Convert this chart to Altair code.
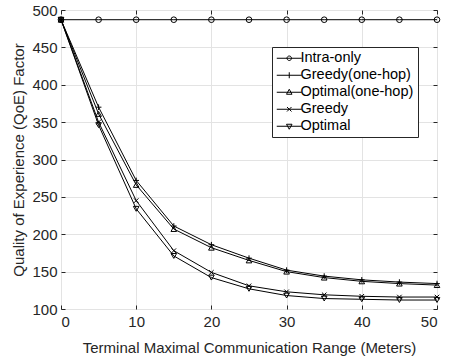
import altair as alt
import pandas as pd

# ---- data ----
ranges = [0, 5, 10, 15, 20, 25, 30, 35, 40, 45, 50]
intra_only = [487, 487, 487, 487, 487, 487, 487, 487, 487, 487, 487]
greedy_one_hop = [487, 370, 272, 211, 186, 168, 152, 144, 139, 136, 134]
optimal_one_hop = [487, 361, 266, 207, 182, 165, 150, 142, 137, 134, 132]
greedy = [487, 350, 245, 178, 149, 131, 123, 119, 117, 116, 116]
optimal = [487, 346, 234, 171, 142, 127, 118, 114, 113, 112, 112]
series_names = ["Intra-only", "Greedy(one-hop)", "Optimal(one-hop)", "Greedy", "Optimal"]
x_ticks = [0, 10, 20, 30, 40, 50]
y_ticks = [100, 150, 200, 250, 300, 350, 400, 450, 500]

rows = []
for name, vals in zip(series_names, [intra_only, greedy_one_hop, optimal_one_hop, greedy, optimal]):
    for r, v in zip(ranges, vals):
        rows.append({"range": r, "qoe": v, "series": name})
df = pd.DataFrame(rows)

FONT = "Liberation Sans"
TXT = "#262626"
GRID = "#e3e3e3"
W, H = 376, 299

x_scale = alt.Scale(domain=[0, 50], nice=False)
y_scale = alt.Scale(domain=[100, 500], nice=False, zero=False)

x_main = alt.X(
    "range:Q", scale=x_scale,
    axis=alt.Axis(
        values=x_ticks, title="Terminal Maximal Communication Range (Meters)",
        grid=True, gridColor=GRID, domain=False, ticks=False,
        labelFont=FONT, labelFontSize=15, labelColor=TXT, labelPadding=5,
        titleFont=FONT, titleFontSize=15, titleFontWeight="normal", titleColor=TXT,
        titlePadding=11,
    ),
)
y_main = alt.Y(
    "qoe:Q", scale=y_scale,
    axis=alt.Axis(
        values=y_ticks, title="Quality of Experience (QoE) Factor",
        grid=True, gridColor=GRID, domain=False, ticks=False,
        labelFont=FONT, labelFontSize=15, labelColor=TXT, labelPadding=4,
        titleFont=FONT, titleFontSize=15, titleFontWeight="normal", titleColor=TXT,
        titlePadding=5,
    ),
)


def tick_axis(values, orient, offset):
    return alt.Axis(
        values=values, orient=orient, offset=offset, title=None,
        labels=False, grid=False, domain=False, ticks=True,
        tickSize=4, tickColor=TXT, tickWidth=1,
    )


# inward tick marks on all four sides of the box (MATLAB style)
x_in_bottom = alt.X("range:Q", scale=x_scale, axis=tick_axis(x_ticks, "top", -H))
x_in_top = alt.X("range:Q", scale=x_scale, axis=tick_axis(x_ticks, "bottom", -H))
y_in_left = alt.Y("qoe:Q", scale=y_scale, axis=tick_axis(y_ticks, "right", -W))
y_in_right = alt.Y("qoe:Q", scale=y_scale, axis=tick_axis(y_ticks, "left", -W))

marker_shapes = [
    "circle",
    "M-1,0L1,0M0,-1L0,1",
    "triangle-up",
    "M-0.8,-0.8L0.8,0.8M-0.8,0.8L0.8,-0.8",
    "triangle-down",
]
legend_shapes = [
    "M-2.5,0L2.5,0M0.45,0A0.45,0.45,0,1,1,-0.45,0A0.45,0.45,0,1,1,0.45,0",
    "M-2.5,0L2.5,0M0,-0.6L0,0.6",
    "M-2.5,0L2.5,0M0,-0.6L0.55,0.4L-0.55,0.4Z",
    "M-2.5,0L2.5,0M-0.45,-0.45L0.45,0.45M-0.45,0.45L0.45,-0.45",
    "M-2.5,0L2.5,0M0,0.6L0.55,-0.4L-0.55,-0.4Z",
]

lines = alt.Chart(df).mark_line(color="black", strokeWidth=1).encode(
    x=x_main, y=y_main, detail="series:N"
)
points = alt.Chart(df).mark_point(filled=False, color="black", size=32, strokeWidth=1, opacity=1).encode(
    x=x_in_bottom, y=y_in_left,
    shape=alt.Shape("series:N", scale=alt.Scale(domain=series_names, range=marker_shapes), legend=None),
)
legend_layer = alt.Chart(df).transform_filter("false").mark_point(
    filled=False, color="black", strokeWidth=1, opacity=1
).encode(
    x=x_in_top, y=y_in_right,
    shape=alt.Shape(
        "series:N",
        scale=alt.Scale(domain=series_names, range=legend_shapes),
        legend=alt.Legend(
            title=None, orient="none", legendX=211, legendY=37,
            labelFont=FONT, labelFontSize=14.5, labelColor="black",
            symbolSize=100, symbolStrokeColor="black", symbolFillColor="transparent",
            symbolStrokeWidth=1, symbolOpacity=1,
            strokeColor=TXT, fillColor="white", padding=4, rowPadding=2,
            symbolOffset=6, labelOffset=4, cornerRadius=0,
        ),
    ),
)

chart = (
    alt.layer(lines, points, legend_layer)
    .resolve_scale(shape="independent")
    .resolve_axis(x="independent", y="independent")
    .properties(
        width=W, height=H,
        autosize=alt.AutoSizeParams(type="none"),
        padding={"left": 61, "top": 10, "right": 14, "bottom": 47},
        background="white",
    )
    .configure_view(stroke=TXT, strokeWidth=1)
)

chart.save("out.html", embed_options={"renderer": "svg", "actions": False})
